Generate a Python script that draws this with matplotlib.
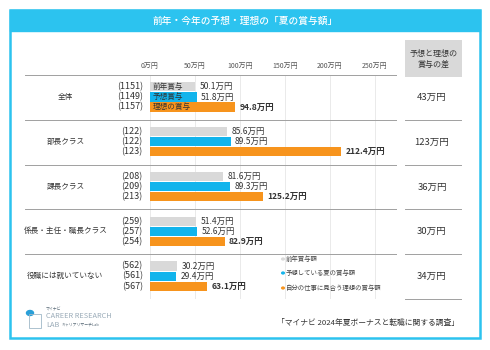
import matplotlib
matplotlib.use("Agg")
import matplotlib.pyplot as plt
from matplotlib.patches import Rectangle, Circle

plt.rcParams['font.family'] = ['Noto Sans CJK JP', 'DejaVu Sans']

categories = ["全体", "部長クラス", "課長クラス", "係長・主任・職長クラス", "役職には就いていない"]
prev_bonus = [50.1, 85.6, 81.6, 51.4, 30.2]
expected_bonus = [51.8, 89.5, 89.3, 52.6, 29.4]
ideal_bonus = [94.8, 212.4, 125.2, 82.9, 63.1]
n_prev = [1151, 122, 208, 259, 562]
n_expected = [1149, 122, 209, 257, 561]
n_ideal = [1157, 123, 213, 254, 567]
gap_labels = ["43万円", "123万円", "36万円", "30万円", "34万円"]
x_ticks = [0, 50, 100, 150, 200, 250]
x_tick_labels = ["0万円", "50万円", "100万円", "150万円", "200万円", "250万円"]
inner_labels = ["前年賞与", "予想賞与", "理想の賞与"]
legend_labels = ["前年賞与額", "予想している夏の賞与額", "自分の仕事に見合う理想の賞与額"]
title = "前年・今年の予想・理想の「夏の賞与額」"
source = "「マイナビ 2024年夏ボーナスと転職に関する調査」"

GRAY = "#d9d9d9"
BLUE = "#12b4ec"
ORANGE = "#f7941d"
FRAME = "#2cc3ef"
TXT = "#333333"

W, H = 490, 350
fig = plt.figure(figsize=(W / 100, H / 100), dpi=100)

def fx(px):
    return px / W

def fy(py):
    return 1 - py / H

# frame and title band
fig.patches.append(Rectangle((fx(10), fy(338)), fx(470), (338 - 10) / H,
                             transform=fig.transFigure, fill=False,
                             edgecolor=FRAME, linewidth=1.8, zorder=0))
fig.patches.append(Rectangle((fx(10), fy(31)), fx(470), 21 / H,
                             transform=fig.transFigure, facecolor=FRAME,
                             edgecolor=FRAME, linewidth=1.0, zorder=0))
fig.text(fx(245), fy(20.5), title, color="white", fontsize=7, ha="center",
         va="center", fontweight="medium")

# main axes
px0 = 150.0
scale = 0.9  # px per 万円
ax_left_px, ax_right_px = 25, 397
ax_top_px, ax_bot_px = 75, 299
ax = fig.add_axes([fx(ax_left_px), fy(ax_bot_px), fx(ax_right_px - ax_left_px),
                   (ax_bot_px - ax_top_px) / H])
ax.set_xlim(-(px0 - ax_left_px) / scale, (ax_right_px - px0) / scale)
n = len(categories)
ax.set_ylim(n, 0)
for s in ax.spines.values():
    s.set_visible(False)
ax.set_yticks([])
ax.xaxis.tick_top()
ax.set_xticks(x_ticks)
ax.set_xticklabels(x_tick_labels, fontsize=5.0, color="#555555")
ax.tick_params(axis="x", length=0, pad=3.5)

for xt in x_ticks:
    ax.plot([xt, xt], [0, n], color="#e6e6e6", linewidth=0.6, zorder=0)
for b in range(n + 1):
    ax.axhline(b, color="#a0a0a0", linewidth=0.7, zorder=1)

bh = 0.205
offs = [-0.225, 0.0, 0.225]
series = [prev_bonus, expected_bonus, ideal_bonus]
counts = [n_prev, n_expected, n_ideal]
colors = [GRAY, BLUE, ORANGE]

for i in range(n):
    c = i + 0.49
    ax.text(-94, c, categories[i], fontsize=5.5, color=TXT, ha="center", va="center")
    for k in range(3):
        y = c + offs[k]
        v = series[k][i]
        ax.barh(y, v, height=bh, color=colors[k], zorder=2)
        ax.text(-8, y, f"({counts[k][i]})", fontsize=6.5, color=TXT,
                ha="right", va="center")
        ax.text(v + 5, y, f"{v:.1f}万円", fontsize=6.1, color=TXT,
                ha="left", va="center",
                fontweight="bold" if k == 2 else "normal")
        if i == 0:
            ax.text(2.5, y, inner_labels[k], fontsize=5.5, color=TXT,
                    ha="left", va="center", zorder=3)

# right column
fig.patches.append(Rectangle((fx(405), fy(77)), fx(57), 37 / H,
                             transform=fig.transFigure, facecolor=GRAY,
                             edgecolor="none", zorder=0))
fig.text(fx(433.5), fy(58.5), "予想と理想の\n賞与の差", fontsize=5.8, color=TXT,
         ha="center", va="center", linespacing=1.25)
grp_h = (ax_bot_px - ax_top_px) / n
for i in range(n):
    ytop = ax_top_px + grp_h * i
    fig.text(fx(432), fy(ytop + grp_h * 0.5), gap_labels[i], fontsize=6.8,
             color=TXT, ha="center", va="center")
    yb = ytop + grp_h
    fig.add_artist(plt.Line2D([fx(405), fx(461)], [fy(yb), fy(yb)],
                              transform=fig.transFigure, color="#a0a0a0",
                              linewidth=0.7))

# legend
leg_y = [259, 273, 288]
for k in range(3):
    fig.add_artist(Circle((fx(283), fy(leg_y[k])), 1.3 / W,
                          transform=fig.transFigure, color=colors[k]))
    fig.text(fx(286), fy(leg_y[k]), legend_labels[k], fontsize=4.6,
             color="#444444", ha="left", va="center")

# source
fig.text(fx(459), fy(323), source, fontsize=5.6, color=TXT, ha="right", va="center")

# logo
fig.add_artist(Circle((fx(30), fy(313)), 3.5 / W, transform=fig.transFigure,
                      color="#2a9fd8"))
fig.add_artist(Rectangle((fx(29), fy(328)), fx(12), 14 / H,
                         transform=fig.transFigure, fill=False,
                         edgecolor="#9fb8c8", linewidth=0.6))
fig.text(fx(46), fy(309.5), "マイナビ", fontsize=2.8, color="#5a6b78",
         ha="left", va="center")
fig.text(fx(46), fy(316.5), "CAREER RESEARCH", fontsize=5.3, color="#9aabb8",
         ha="left", va="center")
fig.text(fx(46), fy(325), "LAB", fontsize=5.3, color="#9aabb8",
         ha="left", va="center")
fig.text(fx(62), fy(325), "キャリアリサーチLab", fontsize=2.8, color="#5a6b78",
         ha="left", va="center")

fig.savefig("out.png", dpi=100)
